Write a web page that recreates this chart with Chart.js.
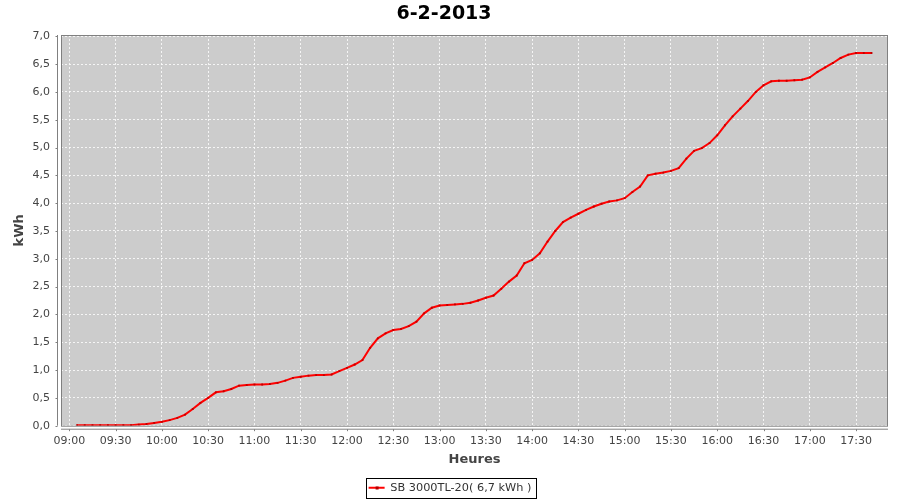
<!DOCTYPE html>
<html lang="fr">
<head>
    <meta charset="UTF-8">
    <title>6-2-2013</title>
    <style>
        html, body { margin: 0; padding: 0; background: #ffffff; }
        #box { width: 900px; height: 500px; }
    </style>
</head>
<body>
    <div id="box"><canvas id="graphique"></canvas></div>

    <script src="https://cdn.jsdelivr.net/npm/chart.js"></script>
    <script>
        // Données (production cumulée, relevé toutes les 5 min)
        const heures = [
            '09:05','09:10','09:15','09:20','09:25','09:30','09:35','09:40','09:45','09:50','09:55',
            '10:00','10:05','10:10','10:15','10:20','10:25','10:30','10:35','10:40','10:45','10:50','10:55',
            '11:00','11:05','11:10','11:15','11:20','11:25','11:30','11:35','11:40','11:45','11:50','11:55',
            '12:00','12:05','12:10','12:15','12:20','12:25','12:30','12:35','12:40','12:45','12:50','12:55',
            '13:00','13:05','13:10','13:15','13:20','13:25','13:30','13:35','13:40','13:45','13:50','13:55',
            '14:00','14:05','14:10','14:15','14:20','14:25','14:30','14:35','14:40','14:45','14:50','14:55',
            '15:00','15:05','15:10','15:15','15:20','15:25','15:30','15:35','15:40','15:45','15:50','15:55',
            '16:00','16:05','16:10','16:15','16:20','16:25','16:30','16:35','16:40','16:45','16:50','16:55',
            '17:00','17:05','17:10','17:15','17:20','17:25','17:30','17:35','17:40'
        ];
        const energie = [
            0.01, 0.01, 0.01, 0.01, 0.01, 0.01, 0.01, 0.01, 0.02, 0.03, 0.05,
            0.07, 0.10, 0.14, 0.20, 0.30, 0.41, 0.50, 0.60, 0.62, 0.66, 0.72, 0.73,
            0.74, 0.74, 0.75, 0.77, 0.81, 0.86, 0.88, 0.90, 0.91, 0.91, 0.92, 0.98,
            1.04, 1.10, 1.18, 1.40, 1.57, 1.66, 1.72, 1.74, 1.79, 1.87, 2.02, 2.12,
            2.16, 2.17, 2.18, 2.19, 2.21, 2.25, 2.30, 2.34, 2.46, 2.59, 2.70, 2.92,
            2.98, 3.10, 3.31, 3.50, 3.66, 3.74, 3.81, 3.88, 3.94, 3.99, 4.03, 4.05,
            4.09, 4.20, 4.30, 4.50, 4.53, 4.55, 4.58, 4.63, 4.80, 4.94, 4.99, 5.08,
            5.22, 5.40, 5.56, 5.70, 5.84, 6.00, 6.12, 6.19, 6.20, 6.20, 6.21, 6.22,
            6.26, 6.36, 6.44, 6.52, 6.61, 6.67, 6.70, 6.70, 6.70
        ];
        const ticksX = ['09:00','09:30','10:00','10:30','11:00','11:30','12:00','12:30','13:00',
                        '13:30','14:00','14:30','15:00','15:30','16:00','16:30','17:00','17:30'];
        const ticksY = [0, 0.5, 1, 1.5, 2, 2.5, 3, 3.5, 4, 4.5, 5, 5.5, 6, 6.5, 7];
        const titre = '6-2-2013';
        const nomSerie = 'SB 3000TL-20( 6,7 kWh )';

        // "HH:MM" -> minutes depuis minuit
        function enMinutes(h) {
            const [hh, mm] = h.split(':').map(Number);
            return hh * 60 + mm;
        }
        function enHeure(m) {
            const hh = Math.floor(m / 60), mm = Math.round(m % 60);
            return String(hh).padStart(2, '0') + ':' + String(mm).padStart(2, '0');
        }

        const gris = '#444444';
        Chart.defaults.font.family = "'DejaVu Sans', sans-serif";
        Chart.defaults.color = gris;

        // Fond du graphique, cadre, axes décalés et petites graduations (style JFreeChart)
        const cadrePlugin = {
            id: 'cadre',
            afterLayout(chart) {
                // légende centrée sur toute la largeur de l'image
                chart.legend.left += 6;
                chart.legend.right += 6;
            },
            beforeDraw(chart) {
                const {ctx, chartArea: a} = chart;
                ctx.save();
                ctx.fillStyle = '#cccccc';
                ctx.fillRect(a.left, a.top, a.right - a.left, a.bottom - a.top);
                ctx.restore();
            },
            afterDraw(chart) {
                const {ctx, chartArea: a, scales} = chart;
                ctx.save();
                ctx.strokeStyle = '#808080';
                ctx.lineWidth = 1;
                ctx.strokeRect(a.left + 0.5, a.top + 0.5, a.right - a.left - 1, a.bottom - a.top);
                // axe Y
                const xAxe = a.left - 3.5;
                ctx.beginPath();
                ctx.moveTo(xAxe, a.top); ctx.lineTo(xAxe, a.bottom);
                scales.y.ticks.forEach(t => {
                    const py = Math.round(scales.y.getPixelForValue(t.value)) + 0.5;
                    ctx.moveTo(xAxe - 2, py); ctx.lineTo(xAxe, py);
                });
                // axe X
                const yAxe = a.bottom + 3.5;
                ctx.moveTo(a.left, yAxe); ctx.lineTo(a.right, yAxe);
                scales.x.ticks.forEach(t => {
                    const px = Math.round(scales.x.getPixelForValue(t.value)) + 0.5;
                    ctx.moveTo(px, yAxe); ctx.lineTo(px, yAxe + 2);
                });
                ctx.stroke();

                // cadre de la légende
                const hb = chart.legend.legendHitBoxes[0];
                if (hb) {
                    ctx.strokeStyle = '#000000';
                    const cy = hb.top + hb.height / 2;
                    ctx.strokeRect(Math.round(hb.left - 3) + 0.5, Math.round(cy - 10) + 0.5,
                                   Math.round(hb.width + 7), 20);
                    ctx.fillStyle = '#b00000';
                    ctx.fillRect(hb.left + 7, Math.round(cy) - 1.5, 3, 3);
                }
                ctx.restore();
            }
        };

        const ctx = document.getElementById('graphique').getContext('2d');
        new Chart(ctx, {
            type: 'line',
            data: {
                datasets: [{
                    label: nomSerie,
                    data: heures.map((h, i) => ({x: enMinutes(h), y: energie[i]})),
                    borderColor: '#ff0000',
                    backgroundColor: '#ff0000',
                    borderWidth: 2,
                    tension: 0,
                    pointStyle: 'rect',
                    pointRadius: 1.3,
                    pointBorderWidth: 0,
                    pointBackgroundColor: '#c00000'
                }]
            },
            options: {
                responsive: true,
                maintainAspectRatio: false,
                animation: false,
                layout: { padding: { left: 0, right: 12, top: 0, bottom: -3.5 } },
                plugins: {
                    title: {
                        display: true,
                        text: titre,
                        color: '#000000',
                        font: { size: 19, weight: 'bold' },
                        padding: { top: 2.6, bottom: 9.6 }
                    },
                    legend: {
                        position: 'bottom',
                        labels: {
                            color: '#333333',
                            font: { size: 11.3 },
                            boxWidth: 16,
                            boxHeight: 2,
                            padding: 4,
                            generateLabels(chart) {
                                return Chart.defaults.plugins.legend.labels.generateLabels(chart)
                                    .map(l => Object.assign(l, { lineWidth: 0 }));
                            }
                        }
                    },
                    tooltip: { enabled: false }
                },
                scales: {
                    x: {
                        type: 'linear',
                        min: 534.6,
                        max: 1070.7,
                        afterFit(s) { s.height = 52.5; },
                        afterBuildTicks(s) { s.ticks = ticksX.map(h => ({ value: enMinutes(h) })); },
                        ticks: {
                            padding: 9,
                            font: { size: 11 },
                            color: gris,
                            maxRotation: 0,
                            autoSkip: false,
                            callback: v => enHeure(v)
                        },
                        grid: { color: 'rgba(255,255,255,0.8)', lineWidth: 1, drawTicks: false },
                        border: { display: false, dash: [2, 2] },
                        title: {
                            display: true,
                            text: 'Heures',
                            color: gris,
                            font: { size: 13, weight: 'bold' },
                            padding: { top: 0, bottom: 11 }
                        }
                    },
                    y: {
                        min: 0,
                        max: 7.023,
                        afterFit(s) { s.width = 61; },
                        afterBuildTicks(s) { s.ticks = ticksY.map(v => ({ value: v })); },
                        ticks: {
                            padding: 11,
                            font: { size: 11 },
                            color: gris,
                            callback: v => v.toFixed(1).replace('.', ',')
                        },
                        grid: { color: 'rgba(255,255,255,0.8)', lineWidth: 1, drawTicks: false },
                        border: { display: false, dash: [2, 2] },
                        title: {
                            display: true,
                            text: 'kWh',
                            color: gris,
                            font: { size: 13, weight: 'bold' },
                            padding: { top: 12, bottom: 0 }
                        }
                    }
                }
            },
            plugins: [cadrePlugin]
        });
    </script>
</body>
</html>
